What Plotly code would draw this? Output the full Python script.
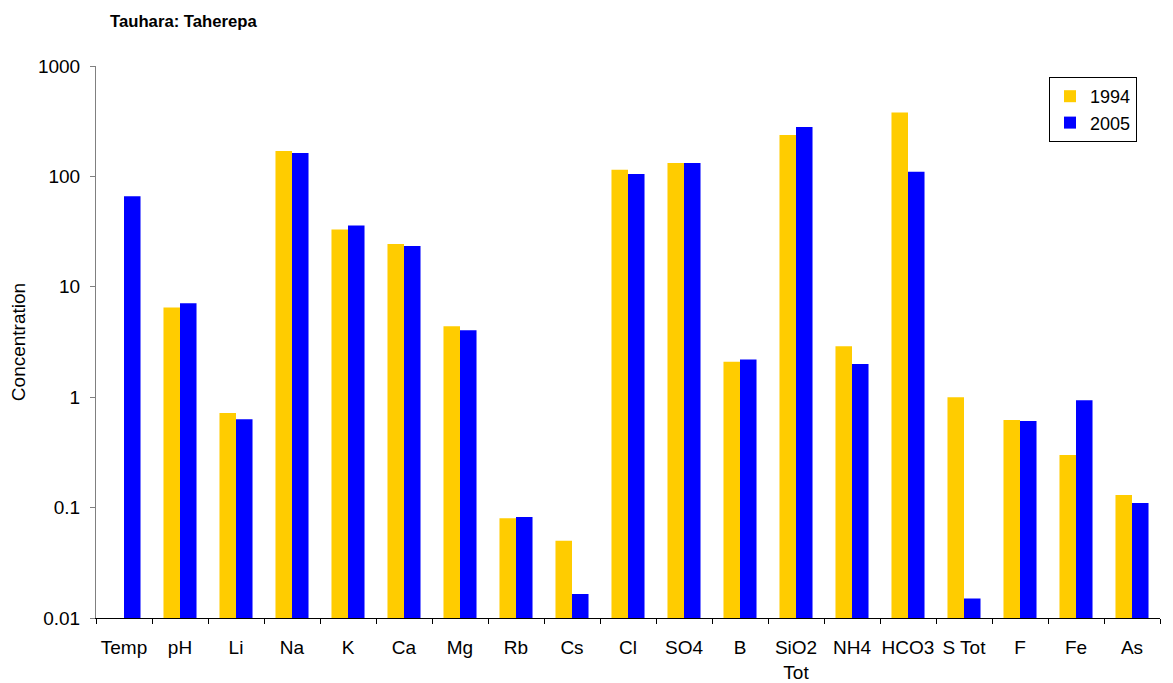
import plotly.graph_objects as go

categories = ["Temp", "pH", "Li", "Na", "K", "Ca", "Mg", "Rb", "Cs", "Cl", "SO4", "B",
              "SiO2<br>Tot", "NH4", "HCO3", "S Tot", "F", "Fe", "As"]
v1994 = [None, 6.5, 0.72, 170, 33, 24.4, 4.4, 0.08, 0.05, 115, 132, 2.1,
         237, 2.9, 380, 1.0, 0.62, 0.30, 0.13]
v2005 = [66, 7.1, 0.63, 163, 36, 23.4, 4.05, 0.082, 0.0165, 105, 132, 2.2,
         280, 2.0, 110, 0.015, 0.61, 0.94, 0.11]
ytickvals = [0.01, 0.1, 1, 10, 100, 1000]
yticktext = ["0.01", "0.1", "1", "10", "100", "1000"]

OFF = 8  # page body margin offset
W, H = 1173 - OFF, 683 - OFF
# target plot area in page pixels: x 96..1160, y 66..618
L, T = 96 - OFF, 66 - OFF
R = W - (1160 - OFF)
B = H - (618 - OFF)
pw, ph = W - L - R, H - T - B

fig = go.Figure()
fig.add_trace(go.Bar(x=categories, y=v1994, name="1994", marker=dict(color="#FFCC00", line=dict(width=0))))
fig.add_trace(go.Bar(x=categories, y=v2005, name="2005", marker=dict(color="#0000FF", line=dict(width=0))))

font = "Liberation Sans, Arial, sans-serif"
fig.update_layout(
    width=W, height=H,
    margin=dict(l=L, r=R, t=T, b=B, autoexpand=False),
    paper_bgcolor="white", plot_bgcolor="white",
    barmode="group", bargap=0.41, bargroupgap=0,
    font=dict(family=font, size=19, color="black"),
    showlegend=True,
    legend=dict(x=(1137 - 96) / pw, y=(618 - 77) / ph, xanchor="right", yanchor="top",
                bordercolor="black", borderwidth=1, bgcolor="white",
                font=dict(size=18), tracegroupgap=0, itemwidth=30),
    title=dict(text="<b>Tauhara: Taherepa</b>", x=(110 - OFF) / W, xanchor="left",
               y=1 - (21 - OFF) / H, yanchor="middle",
               xref="container", yref="container", font=dict(size=16.7, family=font)),
)
fig.update_yaxes(type="log", range=[-2, 3], tickvals=ytickvals, ticktext=yticktext,
                 showgrid=False, showline=True, linecolor="#808080", linewidth=1,
                 ticks="outside", ticklen=5, tickcolor="#808080", ticklabelstandoff=6,
                 title=dict(text="Concentration", font=dict(size=19), standoff=8),
                 zeroline=False, automargin=False)
fig.update_xaxes(showgrid=False, showline=True, linecolor="black", linewidth=1,
                 ticks="outside", ticklen=5, tickcolor="black", tickson="boundaries",
                 tickangle=0, tickfont=dict(size=19), ticklabelstandoff=12, automargin=False)
fig.write_html("out.html")
